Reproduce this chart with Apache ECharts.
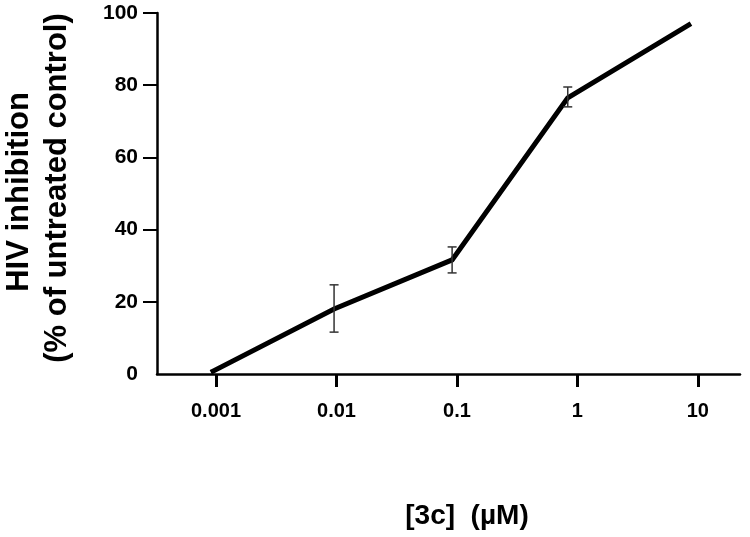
<!DOCTYPE html>
<html>
<head>
<meta charset="utf-8">
<script src="https://cdn.jsdelivr.net/npm/echarts@6/dist/echarts.min.js"></script>
<style>html,body{margin:0;padding:0;background:#fff}#c{width:750px;height:537px}</style>
</head>
<body>
<div id="c"></div>
<script>
// Data (x in log10 of concentration, µM)
var tickLogValues = [-3, -2, -1, 0, 1];
var tickLabels = ['0.001', '0.01', '0.1', '1', '10'];
var logConc = [-3.025, -2.02, -1.04, -0.08, 0.925];
var inhibition = [0.8, 18.0, 31.6, 76.5, 96.7];
var errLow = [null, 11.6, 28.0, 74.0, null];
var errHigh = [null, 24.7, 35.2, 79.5, null];
var yTicks = [20, 40, 60, 80, 100];
var yLabels = [0, 20, 40, 60, 80, 100];

var FONT = '"Liberation Sans", Arial, sans-serif';
var lineData = logConc.map(function (x, i) { return [x, inhibition[i]]; });
var errData = [];
logConc.forEach(function (x, i) {
  if (errLow[i] != null) errData.push([x, errLow[i], errHigh[i]]);
});

var chart = echarts.init(document.getElementById('c'));
chart.setOption({
  animation: false,
  backgroundColor: '#fff',
  grid: { left: 157, right: 10, top: 13, bottom: 163 },
  xAxis: {
    type: 'value',
    min: -3.49,
    max: 1.35,
    splitLine: { show: false },
    axisLine: { onZero: false, lineStyle: { color: '#000', width: 2.5 } },
    axisTick: { show: true, length: 13, lineStyle: { color: '#000', width: 3 }, customValues: tickLogValues },
    axisLabel: {
      customValues: tickLogValues,
      margin: 27,
      color: '#000',
      fontSize: 20,
      fontWeight: 'bold',
      fontFamily: FONT,
      formatter: function (v) {
        var idx = tickLogValues.indexOf(Math.round(v));
        return idx >= 0 ? tickLabels[idx] : '';
      }
    }
  },
  yAxis: {
    type: 'value',
    min: 0,
    max: 100,
    interval: 20,
    splitLine: { show: false },
    axisLine: { show: true, onZero: false, lineStyle: { color: '#000', width: 2.5 } },
    axisTick: { show: true, length: 14, lineStyle: { color: '#000', width: 2 }, customValues: yTicks },
    axisLabel: {
      customValues: yLabels,
      margin: 19,
      color: '#000',
      fontSize: 21,
      fontWeight: 'bold',
      fontFamily: FONT
    }
  },
  series: [
    {
      type: 'line',
      data: lineData,
      showSymbol: false,
      lineStyle: { color: '#000', width: 5, cap: 'square', join: 'miter' },
      z: 3
    },
    {
      type: 'custom',
      data: errData,
      z: 4,
      renderItem: function (params, api) {
        var x = api.value(0);
        var lo = api.coord([x, api.value(1)]);
        var hi = api.coord([x, api.value(2)]);
        var hw = 4.5;
        var style = { stroke: '#333', lineWidth: 1.5 };
        return {
          type: 'group',
          children: [
            { type: 'line', shape: { x1: lo[0], y1: lo[1], x2: hi[0], y2: hi[1] }, style: style },
            { type: 'line', shape: { x1: lo[0] - hw, y1: lo[1], x2: lo[0] + hw, y2: lo[1] }, style: style },
            { type: 'line', shape: { x1: hi[0] - hw, y1: hi[1], x2: hi[0] + hw, y2: hi[1] }, style: style }
          ]
        };
      }
    }
  ],
  graphic: [
    {
      type: 'text', x: 19, y: 192, rotation: Math.PI / 2,
      style: { text: 'HIV inhibition', font: 'bold 31px ' + FONT, fill: '#000', align: 'center', verticalAlign: 'middle' }
    },
    {
      type: 'text', x: 57, y: 188, rotation: Math.PI / 2,
      style: { text: '(% of untreated control)', font: 'bold 31px ' + FONT, fill: '#000', align: 'center', verticalAlign: 'middle' }
    },
    {
      type: 'text', x: 467, y: 516,
      style: { text: '[3c]  (µM)', font: 'bold 28px ' + FONT, fill: '#000', align: 'center', verticalAlign: 'middle' }
    }
  ]
});
</script>
</body>
</html>
